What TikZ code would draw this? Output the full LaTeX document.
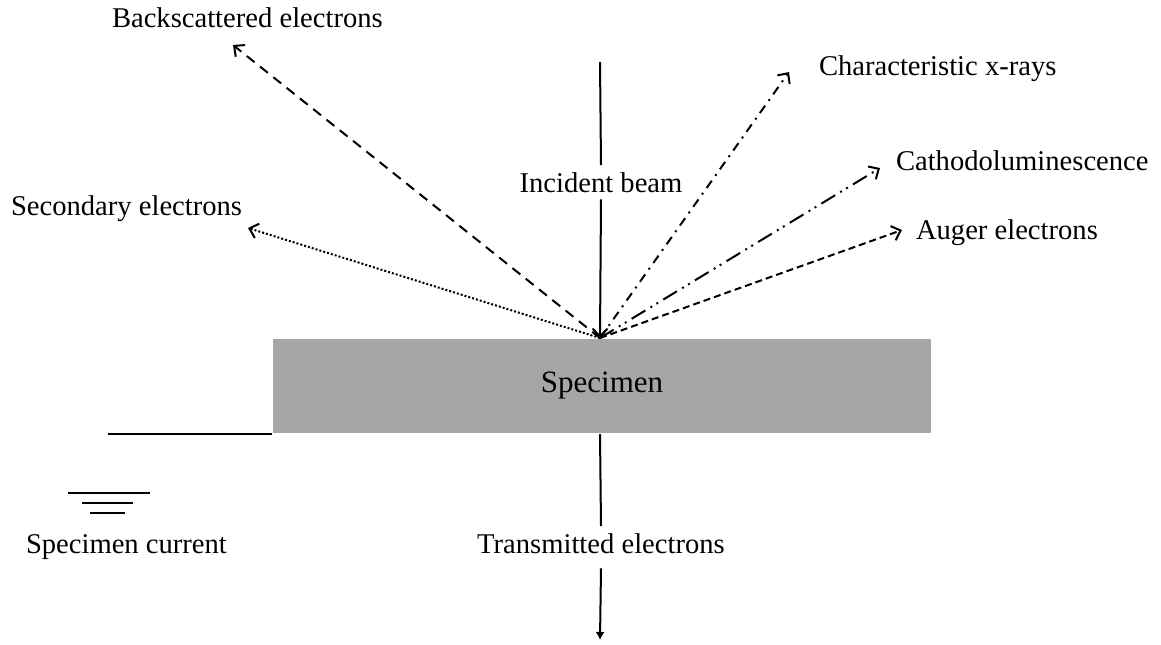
\documentclass[tikz,border=0pt]{standalone}
\usepackage{fontspec}
\setmainfont{Liberation Serif}
\usetikzlibrary{arrows.meta}

\begin{document}
\begin{tikzpicture}[x=0.5pt,y=-0.5pt,>={Straight Barb[length=4pt,width=7.5pt]},line width=1pt,
    lbl/.style={font=\fontsize{14.3}{17}\selectfont,inner sep=0pt},
    cut/.style={lbl,inner xsep=0pt,inner ysep=3pt}]
    \useasboundingbox (0,0) rectangle (1161,644);

                % the sample
                \node[fill=black!35, minimum width=329pt, minimum height=47pt, inner sep=0pt,
                      anchor=north west, font=\fontsize{15.5}{18}\selectfont] (spec) at (272,338) {Specimen};
                \coordinate (hit) at (600,338);

                % ends of the rays
                \coordinate (top) at (600,62);
                \coordinate (bse tip) at (233,45);
                \coordinate (se tip) at (248,228);
                \coordinate (xr tip) at (789,72);
                \coordinate (cl tip) at (880,168);
                \coordinate (ae tip) at (902,230);
                \coordinate (te tip) at (600,640);

                % labels
                \node[lbl, anchor=base west] (bse) at (111,27) {Backscattered electrons};
                \node[lbl, anchor=base west] (se) at (10,215) {Secondary electrons};
                \node[lbl, anchor=base west] (xr) at (818,75) {Characteristic x-rays};
                \node[lbl, anchor=base west] (cl) at (895,170) {Cathodoluminescence};
                \node[lbl, anchor=base west] (ae) at (915,239) {Auger electrons};
                \node[cut, anchor=base] (inc) at (601,192) {Incident beam};
                \node[cut, anchor=base] (te) at (601,553) {Transmitted electrons};
                \node[lbl, anchor=base west] (sc) at (25,553) {Specimen current};

                % beam in and out
                \draw[-] (top) to (inc.north);
                \draw[->] (inc.south) to (hit);
                \draw[-] (spec.south -| hit) to (te.north);
                \draw[->, >={Latex[length=4pt,width=4.5pt]}] ([yshift=-4pt]te.south) to (te tip);

                % emitted signals
                \draw[->, dash pattern=on 5pt off 3.5pt] (hit) to (bse tip);
                \draw[->, dash pattern=on 1pt off 1pt] (hit) to (se tip);
                \draw[->, dash pattern=on 4.5pt off 3pt on 1pt off 3pt] (hit) to (xr tip);
                \draw[->, dash pattern=on 8pt off 3pt on 1pt off 2.5pt on 1pt off 3pt] (hit) to (cl tip);
                \draw[->, dash pattern=on 3.5pt off 2pt] (hit) to (ae tip);

                % ground wire
                \coordinate (wire) at ([xshift=-82pt]spec.south west);
                \draw[-, line width=1.2pt] (wire) to (spec.south west);
                \draw[line width=1.2pt] (68,493) -- (150,493);
                \draw[line width=1.2pt] (82,503) -- (133,503);
                \draw[line width=1.2pt] (90,513) -- (125,513);

                ;
            \end{tikzpicture}
\end{document}
